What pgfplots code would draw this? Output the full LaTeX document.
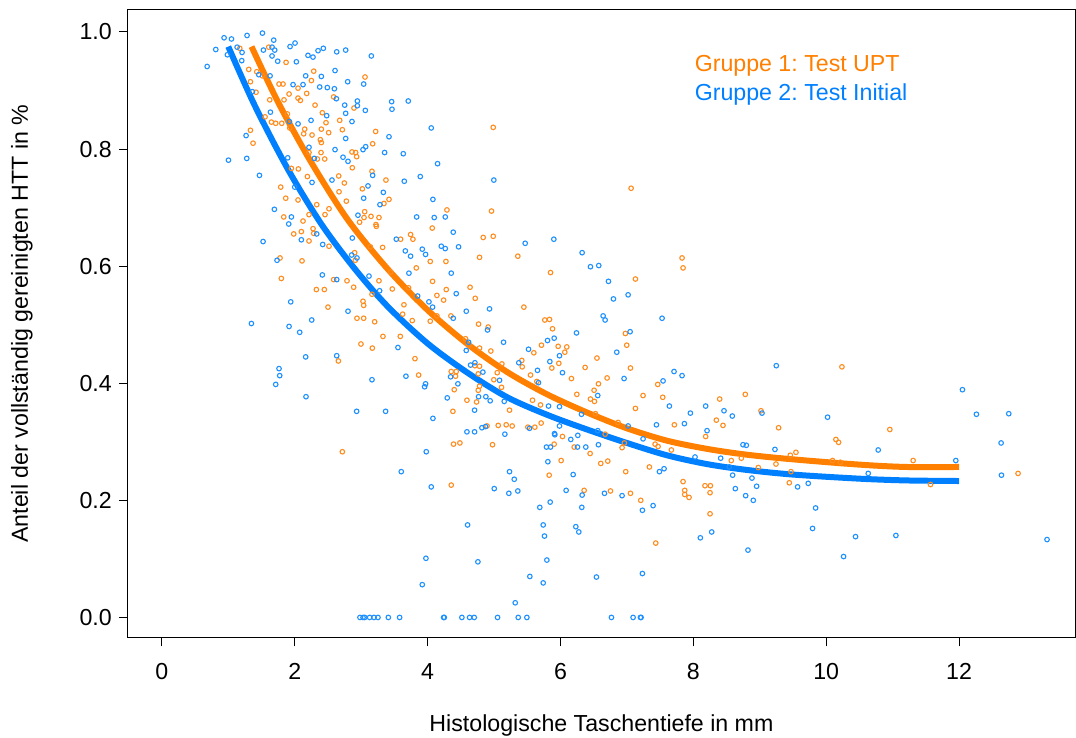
\documentclass[border=0pt]{standalone}
\usepackage{fontspec}
\setmainfont{Liberation Sans}
\usepackage{pgfplots}
\pgfplotsset{compat=1.18}
\definecolor{ptOrange}{RGB}{255,140,30}
\definecolor{ptBlue}{RGB}{30,144,255}
\definecolor{lnOrange}{RGB}{255,127,0}
\definecolor{lnBlue}{RGB}{0,128,255}
\newcommand{\chartfont}{\fontsize{11.6}{13.5}\selectfont}
\frenchspacing

\pgfplotstableread{
x y
1.173 0.972
1.609 0.974
1.870 0.948
1.308 0.936
1.429 0.932
1.514 0.925
1.333 0.915
1.418 0.897
1.764 0.911
1.824 0.911
1.915 0.894
2.050 0.904
2.180 0.895
2.306 0.875
2.085 0.883
2.050 0.887
1.839 0.884
1.624 0.884
1.554 0.855
1.649 0.846
1.714 0.844
1.805 0.844
1.890 0.860
1.925 0.836
2.150 0.834
2.135 0.826
2.261 0.824
2.416 0.862
2.471 0.845
2.401 0.834
2.511 0.828
2.386 0.816
2.401 0.811
2.396 0.794
2.451 0.783
2.341 0.783
2.191 0.753
2.055 0.766
1.950 0.767
1.789 0.735
1.865 0.716
2.050 0.713
2.331 0.705
2.215 0.688
2.516 0.698
2.456 0.688
2.662 0.754
2.747 0.742
2.667 0.727
2.777 0.711
1.835 0.684
2.125 0.677
1.373 0.810
1.333 0.832
2.286 0.933
2.251 0.917
2.586 0.889
2.677 0.849
2.717 0.833
2.215 0.794
3.058 0.923
2.892 0.870
3.218 0.830
3.173 0.809
2.862 0.795
2.917 0.794
2.932 0.787
2.867 0.768
3.163 0.762
3.373 0.747
3.018 0.732
3.419 0.714
3.343 0.707
4.291 0.696
3.053 0.693
3.043 0.683
3.148 0.685
3.268 0.683
2.977 0.675
3.223 0.671
4.988 0.837
4.962 0.694
7.063 0.733
1.985 0.655
2.100 0.659
2.276 0.664
2.286 0.656
2.215 0.643
2.516 0.634
1.779 0.614
2.110 0.609
1.799 0.579
2.586 0.577
2.787 0.575
2.326 0.560
2.446 0.560
2.501 0.530
2.657 0.438
3.228 0.668
3.744 0.654
3.779 0.646
3.594 0.646
4.070 0.665
4.837 0.649
4.988 0.651
4.782 0.615
3.323 0.632
3.138 0.633
2.902 0.623
2.912 0.610
3.830 0.597
4.040 0.608
4.276 0.608
3.444 0.590
3.268 0.575
2.887 0.564
3.469 0.561
3.714 0.563
4.075 0.574
4.281 0.560
4.639 0.564
4.717 0.545
4.140 0.550
4.241 0.542
3.644 0.534
3.163 0.552
3.028 0.540
3.038 0.533
2.937 0.511
3.038 0.511
3.203 0.505
3.624 0.518
3.769 0.507
4.040 0.506
4.140 0.515
4.351 0.515
4.767 0.501
4.912 0.496
3.328 0.480
3.589 0.480
2.997 0.467
3.168 0.460
3.810 0.442
3.865 0.414
4.431 0.420
4.571 0.476
4.622 0.465
4.782 0.460
4.952 0.455
4.356 0.420
4.421 0.412
4.712 0.430
4.782 0.429
4.762 0.416
4.997 0.406
5.048 0.418
5.118 0.433
5.113 0.393
4.782 0.395
4.762 0.388
4.401 0.389
4.592 0.371
4.737 0.368
4.381 0.352
4.895 0.327
5.063 0.328
5.183 0.329
5.233 0.354
5.358 0.617
5.850 0.589
7.128 0.578
5.449 0.530
5.764 0.508
5.835 0.509
5.880 0.493
6.977 0.485
6.997 0.465
5.714 0.465
5.599 0.452
5.965 0.463
6.095 0.462
6.065 0.453
5.418 0.439
5.424 0.428
5.975 0.434
5.870 0.426
6.549 0.443
6.371 0.427
7.053 0.426
5.549 0.414
6.165 0.408
6.702 0.409
6.571 0.399
5.644 0.403
7.464 0.398
6.506 0.388
6.246 0.381
6.451 0.373
6.511 0.369
7.243 0.379
7.539 0.376
5.579 0.371
5.699 0.363
7.128 0.357
6.526 0.348
5.509 0.325
5.614 0.325
5.709 0.332
5.273 0.327
6.672 0.313
6.867 0.333
7.830 0.614
7.845 0.597
10.236 0.428
8.782 0.381
8.396 0.373
8.346 0.337
8.446 0.328
7.714 0.329
9.018 0.353
9.283 0.324
10.957 0.321
2.717 0.283
4.391 0.296
4.486 0.298
4.977 0.295
4.356 0.226
6.030 0.309
5.905 0.296
6.206 0.291
6.446 0.280
6.606 0.263
6.712 0.267
6.010 0.268
5.830 0.243
6.982 0.249
7.338 0.257
7.424 0.296
7.469 0.292
6.962 0.298
6.356 0.217
6.752 0.216
7.053 0.212
7.208 0.200
7.434 0.127
6.927 0.290
8.185 0.309
7.669 0.286
8.571 0.268
8.722 0.272
8.977 0.256
9.243 0.262
9.459 0.277
9.544 0.282
9.469 0.249
9.444 0.230
10.145 0.304
10.186 0.299
10.095 0.268
10.211 0.265
11.308 0.268
11.569 0.227
12.887 0.246
7.845 0.232
8.175 0.225
8.256 0.225
7.870 0.217
7.870 0.210
7.935 0.205
8.251 0.213
8.251 0.177
}\orangepts

\pgfplotstableread{
x y
0.937 0.990
1.048 0.988
1.283 0.994
1.514 0.998
1.684 0.986
0.812 0.970
1.133 0.974
1.208 0.965
1.203 0.951
0.987 0.961
0.682 0.941
1.529 0.969
1.659 0.974
1.699 0.969
1.659 0.959
1.744 0.950
1.930 0.975
2.005 0.981
2.025 0.949
2.200 0.960
2.275 0.957
2.351 0.968
2.431 0.972
2.632 0.966
2.767 0.969
2.607 0.934
2.401 0.924
2.165 0.925
2.125 0.910
1.975 0.910
2.376 0.906
2.491 0.905
2.597 0.903
2.627 0.886
2.797 0.915
2.752 0.875
2.767 0.861
2.481 0.857
2.246 0.849
2.050 0.843
1.920 0.847
1.629 0.925
1.459 0.927
1.363 0.898
1.634 0.863
1.268 0.823
1.003 0.781
1.278 0.784
1.469 0.755
1.895 0.785
2.215 0.803
2.296 0.784
2.607 0.799
2.727 0.786
2.802 0.779
2.767 0.818
2.561 0.747
2.261 0.743
2.000 0.735
1.694 0.697
1.950 0.684
1.910 0.672
3.153 0.959
3.038 0.911
2.943 0.882
2.943 0.874
3.063 0.866
3.459 0.881
3.464 0.868
3.709 0.882
2.862 0.847
4.055 0.836
3.419 0.821
3.068 0.804
3.028 0.799
3.353 0.794
3.634 0.792
4.150 0.775
3.173 0.755
3.890 0.753
3.649 0.745
3.103 0.737
3.334 0.726
3.038 0.716
3.283 0.705
4.080 0.714
4.997 0.747
2.952 0.687
3.835 0.684
4.100 0.683
4.266 0.684
1.524 0.642
2.100 0.645
2.331 0.655
2.421 0.637
1.734 0.610
2.416 0.585
2.632 0.577
1.940 0.539
2.802 0.523
1.348 0.502
1.915 0.497
2.075 0.487
2.256 0.508
2.165 0.445
2.632 0.447
1.764 0.425
1.774 0.413
1.714 0.398
2.170 0.377
4.386 0.658
3.529 0.646
3.665 0.626
3.920 0.629
3.970 0.620
3.744 0.617
4.206 0.634
4.266 0.630
4.466 0.633
2.867 0.648
2.937 0.614
2.857 0.619
3.719 0.588
4.356 0.588
3.118 0.583
3.278 0.558
3.850 0.549
4.431 0.553
4.020 0.539
4.075 0.530
4.582 0.523
4.932 0.527
4.386 0.511
4.902 0.491
5.143 0.470
4.617 0.470
4.582 0.456
4.647 0.431
4.712 0.435
4.832 0.419
3.554 0.461
3.163 0.406
3.674 0.412
3.970 0.399
3.955 0.394
4.346 0.411
4.456 0.399
5.083 0.405
4.296 0.375
4.767 0.377
4.877 0.377
4.942 0.370
5.153 0.369
4.707 0.354
2.932 0.352
3.368 0.352
4.080 0.340
4.592 0.317
4.707 0.317
4.817 0.324
4.872 0.326
5.163 0.313
5.469 0.639
5.900 0.646
6.326 0.623
6.451 0.599
6.576 0.601
6.722 0.574
7.018 0.551
6.797 0.544
6.642 0.515
6.672 0.508
7.529 0.511
6.241 0.486
7.048 0.488
5.905 0.477
5.805 0.473
5.519 0.458
5.985 0.447
6.847 0.453
5.373 0.435
5.840 0.437
5.654 0.422
6.030 0.418
5.669 0.401
6.957 0.408
7.544 0.404
6.561 0.379
5.820 0.361
5.985 0.360
6.316 0.347
7.639 0.361
7.444 0.329
7.018 0.327
6.561 0.319
5.985 0.327
5.534 0.323
5.910 0.314
7.709 0.420
7.830 0.413
9.248 0.430
12.050 0.389
12.260 0.347
12.747 0.348
7.955 0.349
8.185 0.361
8.461 0.353
8.586 0.344
9.033 0.349
7.865 0.331
10.020 0.342
8.206 0.319
3.980 0.283
3.604 0.249
4.055 0.223
5.003 0.220
5.233 0.249
5.223 0.212
4.602 0.158
3.975 0.101
4.757 0.095
3.920 0.056
2.982 0
3.028 0
3.053 0
3.128 0
3.193 0
3.253 0
3.409 0
3.579 0
4.241 0
4.251 0
4.516 0
4.632 0
4.702 0
5.053 0
5.915 0.312
6.155 0.304
6.261 0.311
5.789 0.291
5.850 0.291
6.256 0.291
6.381 0.291
6.571 0.295
7.243 0.305
5.810 0.266
6.191 0.244
5.304 0.236
5.358 0.216
6.085 0.217
6.326 0.209
6.662 0.212
6.927 0.208
7.394 0.191
7.233 0.183
5.845 0.197
5.689 0.188
6.321 0.188
5.740 0.158
5.759 0.139
6.231 0.155
6.276 0.146
5.795 0.098
5.539 0.070
5.740 0.059
6.541 0.069
7.233 0.075
5.319 0.025
5.364 0
5.494 0
6.767 0
7.093 0
7.203 0
7.213 0
7.489 0.249
7.559 0.254
8.025 0.274
8.411 0.272
8.747 0.295
8.797 0.294
9.228 0.287
10.782 0.286
11.950 0.268
12.632 0.298
12.637 0.243
8.591 0.243
8.882 0.238
8.952 0.224
8.632 0.220
8.787 0.208
8.902 0.200
9.569 0.223
9.729 0.229
9.840 0.187
9.794 0.152
10.632 0.246
8.276 0.146
8.105 0.136
8.822 0.115
10.261 0.104
10.441 0.138
11.048 0.140
13.323 0.133
8.541 0.257
}\bluepts

\pgfplotstableread{
x y
1.35 0.975
1.75 0.880
2.25 0.777
2.80 0.679
3.40 0.595
4.00 0.525
4.60 0.467
5.20 0.419
5.80 0.381
6.40 0.350
7.00 0.323
7.60 0.302
8.20 0.288
8.80 0.278
9.50 0.270
10.50 0.261
11.20 0.257
12.00 0.257
}\orangefit

\pgfplotstableread{
x y
1.00 0.975
1.40 0.874
1.90 0.765
2.40 0.672
2.90 0.596
3.40 0.531
4.00 0.468
4.60 0.418
5.20 0.376
5.80 0.346
6.40 0.321
7.00 0.298
7.60 0.277
8.20 0.262
8.80 0.252
9.50 0.244
10.50 0.237
11.20 0.234
12.00 0.233
}\bluefit

\begin{document}
\begin{tikzpicture}
\begin{axis}[
  at={(0,0)}, anchor=south west,
  scale only axis, width=474pt, height=314pt,
  xmin=-0.511, xmax=13.744, ymin=-0.0341, ymax=1.0375,
  axis line style={line width=0.5pt},
  tick align=outside, major tick length=4.5pt,
  tick style={line width=0.5pt, black},
  xtick={0,2,4,6,8,10,12}, ytick={0,0.2,0.4,0.6,0.8,1.0},
  xtick pos=bottom, ytick pos=left,
  minor tick num=0,
  /pgf/number format/assume math mode=true,
  tick label style={font=\chartfont},
  label style={font=\chartfont},
  yticklabel style={/pgf/number format/.cd, fixed, fixed zerofill, precision=1},
  xticklabel style={/pgf/number format/.cd, fixed, precision=0, /tikz/.cd, yshift=-5pt},
  xlabel={Histologische Taschentiefe in mm},
  ylabel={Anteil der vollständig gereinigten HTT in \%},
  xlabel style={at={(axis description cs:0.5,-0.140)}, anchor=center},
  ylabel style={at={(axis description cs:-0.1118,0.5)}, anchor=center},
  clip=false,
]
\addplot[only marks, mark=o, mark size=1.15pt, color=ptOrange, mark options={line width=0.55pt}] table {\orangepts};
\addplot[only marks, mark=o, mark size=1.15pt, color=ptBlue, mark options={line width=0.55pt}] table {\bluepts};
\addplot[no marks, smooth, color=lnOrange, line width=3pt] table {\orangefit};
\addplot[no marks, smooth, color=lnBlue, line width=3pt] table {\bluefit};
\node[anchor=west, inner sep=0pt, text=lnOrange, font=\chartfont] at (axis cs:8.015,0.942) {Gruppe 1: Test UPT};
\node[anchor=west, inner sep=0pt, text=lnBlue, font=\chartfont] at (axis cs:8.015,0.893) {Gruppe 2: Test Initial};
\end{axis}
\pgfresetboundingbox
\path[use as bounding box] (-64pt,-50pt) rectangle (474.5pt,319pt);
\end{tikzpicture}
\end{document}
